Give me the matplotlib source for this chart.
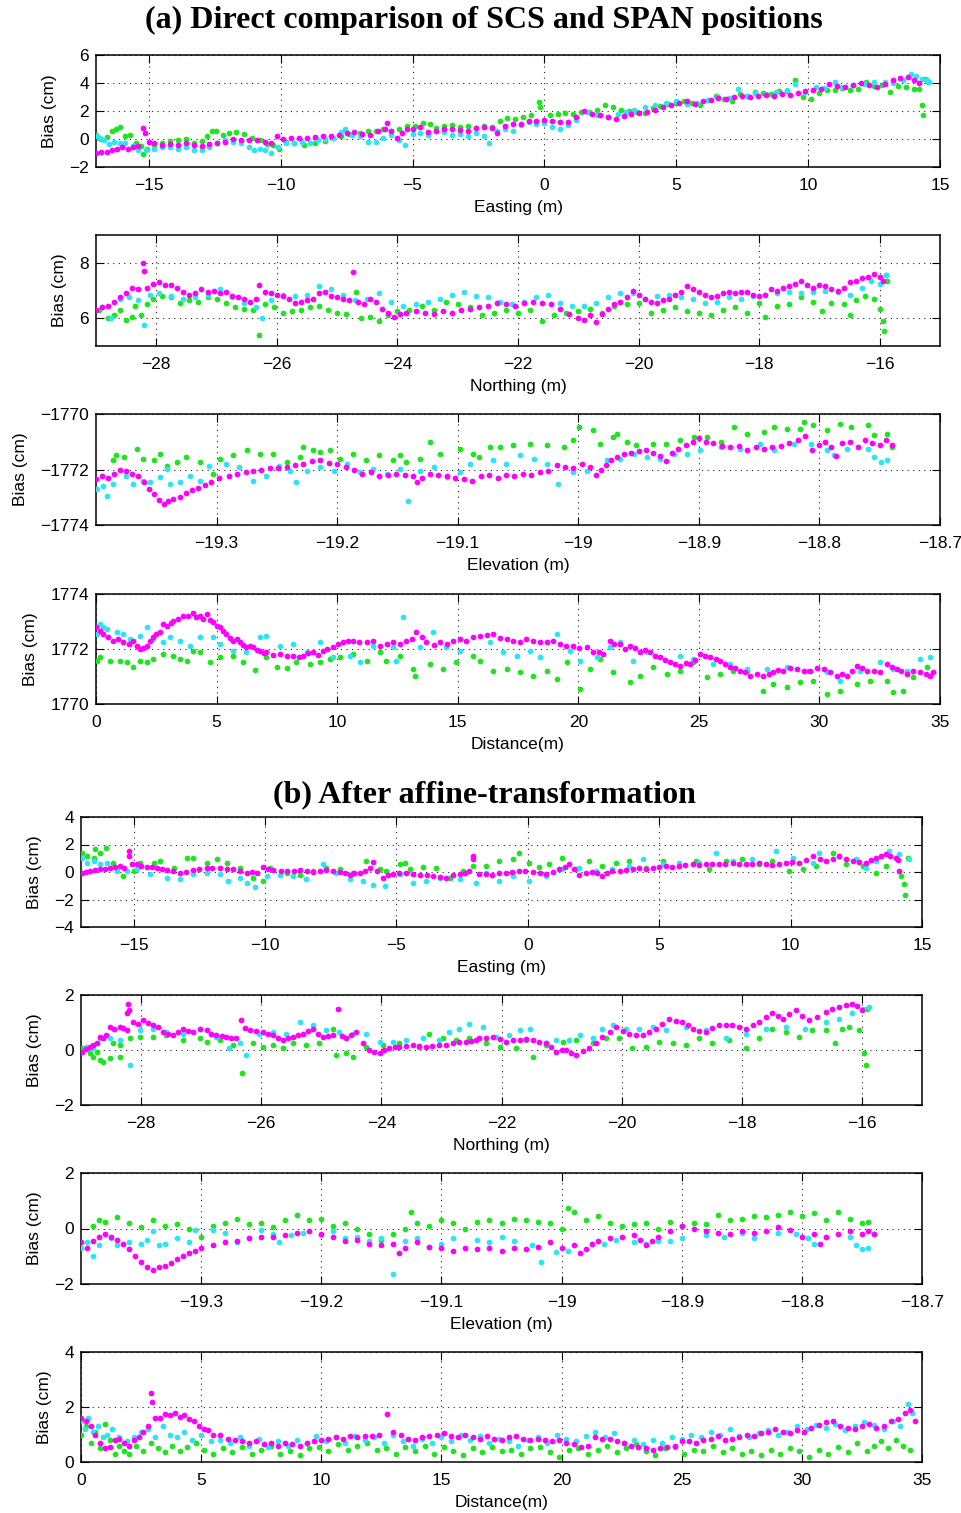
import matplotlib
matplotlib.use("Agg")
import matplotlib.pyplot as plt
from matplotlib.ticker import FuncFormatter

# ---------------------------------------------------------------- data
# (a) Direct comparison -- bias vs Easting
A_EAST_MAG_X = [-17.0,-16.8,-16.6,-16.4,-16.2,-16.0,-15.8,-15.6,-15.4,-15.2,-15.15,-15.0,-14.8,-14.5,-14.2,-13.9,-13.6,-13.3,-13.0,-12.7,-12.4,-12.1,-11.8,-11.5,-11.2,-10.9,-10.6,-10.35,-10.15,-9.9,-9.6,-9.3,-9.0,-8.7,-8.4,-8.1,-7.8,-7.5,-7.2,-6.9,-6.6,-6.3,-6.05,-5.95,-5.8,-5.6,-5.4,-5.2,-5.0,-4.7,-4.4,-4.1,-3.8,-3.5,-3.2,-2.9,-2.6,-2.3,-2.0,-1.8,-1.5,-1.2,-0.9,-0.6,-0.3,0.0,0.3,0.6,0.9,1.2,1.5,1.8,2.1,2.4,2.7,3.0,3.3,3.6,3.9,4.2,4.5,4.8,5.1,5.4,5.7,6.0,6.3,6.6,6.9,7.2,7.5,7.8,8.1,8.4,8.7,9.0,9.3,9.6,9.9,10.2,10.5,10.8,11.1,11.4,11.7,12.0,12.3,12.6,12.9,13.2,13.5,13.8,14.0,14.2]
A_EAST_MAG_Y = [-1.0,-0.95,-0.9,-0.8,-0.7,-0.6,-0.7,-0.55,-0.5,0.8,0.45,-0.2,-0.3,-0.4,-0.35,-0.4,-0.3,-0.45,-0.5,-0.35,-0.25,-0.2,0.0,-0.05,-0.1,-0.05,-0.2,-0.3,0.25,0.0,0.1,0.1,0.05,0.15,0.2,0.25,0.3,0.45,0.5,0.35,0.3,0.55,0.75,1.15,0.6,0.1,0.4,0.7,0.75,0.85,0.5,0.6,0.7,0.75,0.65,0.55,0.8,0.85,0.8,0.45,0.95,1.1,1.05,1.3,1.3,1.35,1.3,1.2,1.25,1.6,2.0,1.8,1.7,1.55,1.4,1.65,1.8,1.85,1.95,2.1,2.3,2.45,2.6,2.7,2.5,2.75,2.8,2.95,2.85,3.0,3.05,3.0,3.1,3.15,3.1,3.2,3.15,3.3,3.4,3.5,3.6,3.9,3.8,3.7,3.85,4.0,3.85,3.75,3.9,4.2,4.35,4.45,4.25,4.0]
A_EAST_GRN_X = [-17.0,-16.9,-16.8,-16.6,-16.4,-16.25,-16.1,-15.9,-15.7,-15.5,-15.3,-15.2,-15.05,-14.8,-14.5,-14.2,-13.9,-13.6,-13.3,-13.0,-12.8,-12.6,-12.45,-12.2,-11.95,-11.7,-11.4,-11.1,-10.8,-10.5,-10.3,-10.05,-9.8,-9.5,-9.1,-8.7,-8.3,-8.0,-7.7,-7.4,-7.0,-6.7,-6.4,-6.1,-5.8,-5.5,-5.2,-4.9,-4.6,-4.35,-4.1,-3.8,-3.5,-3.2,-2.9,-2.6,-2.3,-2.0,-1.7,-1.4,-1.1,-0.8,-0.5,-0.2,-0.15,0.2,0.5,0.8,1.1,1.4,1.7,2.0,2.3,2.6,2.9,3.2,3.5,3.8,4.1,4.4,4.7,5.0,5.3,5.6,5.9,6.2,6.5,6.8,7.1,7.4,7.7,8.0,8.3,8.6,8.9,9.2,9.5,9.8,10.1,10.4,10.7,11.0,11.3,11.6,11.9,12.2,12.5,12.8,13.1,13.4,13.7,14.0,14.2,14.3,14.35,14.45,14.55]
A_EAST_GRN_Y = [0.3,0.1,0.0,0.15,0.6,0.75,0.85,0.2,0.3,-0.3,-0.5,-1.1,-0.7,-0.4,-0.3,-0.15,-0.1,0.0,-0.3,-0.15,0.2,0.55,0.55,0.3,0.4,0.5,0.35,0.1,-0.1,-0.35,-0.4,-0.7,-0.2,-0.3,-0.4,-0.3,-0.15,0.05,0.25,0.35,0.45,0.6,0.55,0.7,0.6,0.75,0.9,0.95,1.15,1.1,0.8,0.9,1.0,0.85,0.95,0.8,0.95,0.85,1.3,1.5,1.45,1.6,1.75,2.65,2.3,1.7,1.8,1.85,1.8,1.95,1.9,2.1,2.4,2.3,2.05,2.0,1.9,1.85,2.2,2.35,2.5,2.55,2.75,2.6,2.4,2.8,3.05,2.85,2.75,3.2,3.1,3.35,3.3,3.25,3.4,3.45,4.2,3.0,2.85,3.3,3.5,3.5,3.65,3.5,3.6,4.05,3.8,3.85,3.35,3.8,3.7,3.55,3.6,2.45,1.75,4.3,4.1]
A_EAST_CYN_X = [-17.0,-16.85,-16.7,-16.5,-16.3,-16.1,-15.9,-15.6,-15.4,-15.1,-14.8,-14.5,-14.2,-13.9,-13.6,-13.3,-13.0,-12.7,-12.4,-12.1,-11.8,-11.5,-11.2,-11.0,-10.8,-10.6,-10.35,-10.1,-9.8,-9.5,-9.2,-8.9,-8.6,-8.3,-8.0,-7.7,-7.55,-7.3,-7.0,-6.7,-6.4,-6.1,-5.8,-5.5,-5.3,-5.0,-4.7,-4.4,-4.1,-3.8,-3.5,-3.2,-2.9,-2.6,-2.3,-2.1,-1.8,-1.5,-1.2,-0.9,-0.6,-0.3,0.0,0.3,0.6,0.9,1.2,1.6,2.0,2.4,2.8,3.1,3.4,3.8,4.2,4.6,5.0,5.4,5.8,6.2,6.6,7.0,7.35,7.7,8.0,8.4,8.8,9.2,9.5,9.9,10.3,10.6,11.0,11.3,11.7,12.1,12.5,12.9,13.2,13.6,13.9,14.1,14.3,14.5,14.6]
A_EAST_CYN_Y = [0.2,0.1,-0.1,-0.35,-0.2,-0.3,-0.25,-0.5,-0.75,-0.8,-0.7,-0.6,-0.55,-0.7,-0.6,-0.8,-0.75,-0.6,-0.3,-0.1,-0.2,-0.3,-0.55,-0.8,-0.7,-0.75,-1.0,-0.6,-0.25,-0.3,-0.2,-0.25,-0.1,0.0,0.1,0.5,0.75,0.3,0.25,-0.2,-0.2,0.1,0.3,-0.1,-0.45,0.35,0.45,0.3,0.55,0.5,0.3,0.35,0.25,0.45,0.2,-0.3,0.55,0.7,0.55,1.0,1.2,1.1,1.15,0.85,0.75,1.0,1.35,1.9,1.75,1.6,1.8,1.9,2.1,2.3,2.4,2.6,2.75,2.5,2.6,2.8,3.0,2.9,3.6,3.1,3.3,3.25,3.35,3.5,3.95,3.35,3.7,3.65,4.05,3.7,3.85,3.9,4.05,4.1,4.0,4.25,4.65,4.5,4.3,4.2,4.05]

# (a) bias vs Northing
A_NORTH_MAG_X = [-29.0,-28.9,-28.8,-28.7,-28.6,-28.5,-28.4,-28.3,-28.22,-28.2,-28.15,-28.05,-27.95,-27.85,-27.75,-27.65,-27.55,-27.45,-27.35,-27.25,-27.15,-27.05,-26.95,-26.85,-26.75,-26.65,-26.55,-26.45,-26.35,-26.3,-26.2,-26.1,-26.0,-25.9,-25.8,-25.7,-25.6,-25.5,-25.4,-25.3,-25.2,-25.1,-25.0,-24.9,-24.8,-24.73,-24.65,-24.55,-24.45,-24.35,-24.25,-24.15,-24.05,-23.95,-23.85,-23.7,-23.55,-23.4,-23.25,-23.1,-22.95,-22.8,-22.65,-22.5,-22.35,-22.2,-22.05,-21.9,-21.75,-21.6,-21.45,-21.3,-21.15,-21.0,-20.9,-20.8,-20.7,-20.6,-20.5,-20.4,-20.3,-20.2,-20.1,-20.0,-19.9,-19.8,-19.7,-19.6,-19.5,-19.4,-19.3,-19.2,-19.1,-19.0,-18.9,-18.8,-18.7,-18.6,-18.5,-18.4,-18.3,-18.2,-18.1,-18.0,-17.9,-17.8,-17.7,-17.6,-17.5,-17.4,-17.3,-17.2,-17.1,-17.0,-16.9,-16.8,-16.7,-16.6,-16.5,-16.4,-16.3,-16.2,-16.1,-16.0,-15.95]
A_NORTH_MAG_Y = [6.3,6.4,6.45,6.6,6.75,6.9,7.1,7.05,8.0,7.7,7.1,7.25,7.3,7.2,7.2,7.1,6.95,6.85,6.9,7.05,6.95,7.0,6.9,6.95,6.8,6.75,6.7,6.6,6.7,7.2,6.95,6.9,6.85,6.8,6.7,6.55,6.6,6.65,6.7,6.9,6.95,6.8,6.75,6.7,6.65,7.65,6.6,6.5,6.7,6.6,6.35,6.2,6.05,6.15,6.2,6.25,6.2,6.15,6.25,6.2,6.3,6.35,6.4,6.45,6.55,6.5,6.45,6.55,6.6,6.55,6.5,6.35,6.15,6.0,5.95,6.1,5.85,6.15,6.35,6.5,6.6,6.75,7.0,6.85,6.7,6.6,6.55,6.65,6.7,6.85,6.95,7.15,7.05,6.95,6.85,6.75,6.8,6.9,6.95,6.9,6.95,6.95,6.85,6.8,6.85,7.05,7.0,7.1,7.15,7.25,7.35,7.2,7.1,7.2,7.15,7.05,7.0,7.1,7.3,7.35,7.45,7.5,7.6,7.5,7.35]
A_NORTH_GRN_X = [-28.95,-28.8,-28.7,-28.6,-28.5,-28.4,-28.35,-28.25,-28.15,-28.05,-27.9,-27.75,-27.6,-27.45,-27.3,-27.15,-27.0,-26.85,-26.7,-26.55,-26.4,-26.3,-26.2,-26.05,-25.9,-25.75,-25.6,-25.45,-25.3,-25.15,-25.0,-24.85,-24.68,-24.6,-24.45,-24.3,-24.15,-24.0,-23.8,-23.6,-23.4,-23.2,-23.0,-22.8,-22.6,-22.4,-22.2,-22.0,-21.8,-21.6,-21.4,-21.2,-21.0,-20.8,-20.6,-20.4,-20.2,-20.0,-19.8,-19.6,-19.4,-19.2,-19.0,-18.8,-18.6,-18.4,-18.2,-18.0,-17.9,-17.7,-17.5,-17.3,-17.1,-16.95,-16.8,-16.6,-16.5,-16.4,-16.25,-16.1,-16.0,-15.95,-15.93,-15.9,-15.88]
A_NORTH_GRN_Y = [6.3,6.0,6.1,6.3,5.95,6.05,6.45,6.1,6.5,6.7,6.8,6.75,6.55,6.65,6.6,6.75,6.7,6.55,6.4,6.35,6.3,5.4,6.5,6.4,6.2,6.25,6.3,6.4,6.45,6.3,6.2,6.15,6.95,6.0,6.05,5.9,6.1,6.25,6.3,6.45,6.3,6.6,6.5,6.4,6.1,6.2,6.3,6.2,6.3,5.9,6.1,6.2,6.25,6.35,6.2,6.45,6.5,6.55,6.2,6.3,6.4,6.25,6.2,6.1,6.3,6.4,6.2,6.55,6.05,6.45,6.5,6.75,6.6,6.25,6.55,6.5,6.1,6.65,6.8,6.7,6.35,5.9,5.55,7.55,7.35]
A_NORTH_CYN_X = [-28.9,-28.75,-28.6,-28.45,-28.3,-28.2,-28.1,-27.95,-27.75,-27.55,-27.35,-27.15,-26.95,-26.75,-26.55,-26.35,-26.25,-26.1,-25.9,-25.7,-25.5,-25.3,-25.1,-24.9,-24.7,-24.5,-24.3,-24.1,-23.9,-23.7,-23.5,-23.3,-23.1,-22.9,-22.7,-22.5,-22.3,-22.1,-21.9,-21.7,-21.5,-21.3,-21.1,-20.9,-20.7,-20.5,-20.3,-20.1,-19.9,-19.7,-19.5,-19.3,-19.1,-18.9,-18.7,-18.5,-18.3,-18.1,-17.9,-17.7,-17.5,-17.3,-17.1,-16.9,-16.7,-16.5,-16.3,-16.15,-16.0,-15.9]
A_NORTH_CYN_Y = [6.4,6.0,6.7,6.75,6.65,5.75,6.85,6.9,6.8,6.7,6.75,6.85,7.05,6.75,6.55,6.4,6.0,6.65,6.85,6.8,6.85,7.15,7.05,6.85,6.65,6.7,6.9,6.6,6.45,6.5,6.6,6.7,6.85,6.95,6.8,6.75,6.6,6.5,6.6,6.75,6.85,6.55,6.45,6.45,6.55,6.75,6.9,6.9,6.7,6.8,6.85,6.75,6.7,6.55,6.6,6.75,6.7,6.8,6.85,6.9,6.95,6.9,6.95,7.0,6.95,6.85,7.1,7.35,7.25,7.55]

# (a) bias vs Elevation
A_ELEV_MAG_X = [-19.4,-19.395,-19.39,-19.385,-19.38,-19.375,-19.37,-19.365,-19.36,-19.356,-19.352,-19.348,-19.344,-19.34,-19.336,-19.33,-19.325,-19.32,-19.315,-19.31,-19.305,-19.298,-19.29,-19.283,-19.276,-19.27,-19.263,-19.256,-19.249,-19.242,-19.235,-19.228,-19.221,-19.214,-19.207,-19.2,-19.193,-19.186,-19.179,-19.172,-19.165,-19.158,-19.151,-19.144,-19.137,-19.134,-19.13,-19.123,-19.116,-19.109,-19.102,-19.095,-19.088,-19.081,-19.074,-19.067,-19.06,-19.053,-19.046,-19.039,-19.032,-19.025,-19.018,-19.011,-19.004,-18.997,-18.99,-18.985,-18.981,-18.977,-18.973,-18.968,-18.962,-18.956,-18.95,-18.944,-18.938,-18.932,-18.927,-18.922,-18.917,-18.911,-18.905,-18.9,-18.894,-18.888,-18.881,-18.874,-18.867,-18.86,-18.853,-18.846,-18.839,-18.832,-18.825,-18.818,-18.812,-18.806,-18.8,-18.795,-18.79,-18.786,-18.781,-18.775,-18.768,-18.762,-18.756,-18.75,-18.745,-18.74]
A_ELEV_MAG_Y = [-1772.35,-1772.25,-1772.3,-1772.15,-1772.0,-1772.05,-1772.15,-1772.25,-1772.45,-1772.7,-1772.9,-1773.1,-1773.25,-1773.15,-1773.05,-1773.0,-1772.85,-1772.75,-1772.65,-1772.55,-1772.45,-1772.3,-1772.25,-1772.15,-1772.1,-1772.05,-1772.0,-1771.95,-1771.95,-1771.9,-1771.85,-1771.8,-1771.7,-1771.65,-1771.75,-1771.8,-1771.9,-1772.0,-1772.15,-1772.1,-1772.25,-1772.2,-1772.15,-1772.2,-1772.25,-1772.45,-1772.3,-1772.15,-1772.2,-1772.25,-1772.3,-1772.35,-1772.4,-1772.25,-1772.2,-1772.3,-1772.2,-1772.25,-1772.15,-1772.2,-1772.1,-1772.05,-1771.85,-1771.9,-1771.95,-1771.8,-1771.9,-1772.2,-1772.0,-1771.85,-1771.65,-1771.55,-1771.45,-1771.4,-1771.35,-1771.3,-1771.4,-1771.5,-1771.7,-1771.4,-1771.25,-1771.1,-1771.0,-1770.85,-1771.0,-1771.05,-1771.15,-1771.2,-1771.15,-1771.3,-1771.2,-1771.25,-1771.2,-1771.15,-1771.05,-1770.95,-1770.8,-1771.3,-1771.1,-1771.0,-1771.2,-1771.5,-1771.05,-1771.0,-1771.2,-1770.95,-1771.05,-1771.1,-1770.95,-1771.1]
A_ELEV_GRN_X = [-19.386,-19.383,-19.377,-19.366,-19.361,-19.352,-19.347,-19.341,-19.333,-19.325,-19.314,-19.303,-19.297,-19.286,-19.275,-19.264,-19.253,-19.242,-19.231,-19.228,-19.22,-19.214,-19.206,-19.198,-19.187,-19.176,-19.165,-19.154,-19.148,-19.143,-19.131,-19.123,-19.115,-19.098,-19.087,-19.082,-19.073,-19.065,-19.054,-19.04,-19.026,-19.012,-19.004,-18.999,-18.988,-18.982,-18.971,-18.968,-18.96,-18.952,-18.938,-18.927,-18.916,-18.904,-18.893,-18.882,-18.871,-18.86,-18.846,-18.838,-18.827,-18.816,-18.813,-18.805,-18.794,-18.783,-18.774,-18.76,-18.755,-18.744,-18.74]
A_ELEV_GRN_Y = [-1771.67,-1771.49,-1771.55,-1771.25,-1771.61,-1771.67,-1771.43,-1771.86,-1771.73,-1771.55,-1771.73,-1772.16,-1771.61,-1771.49,-1771.31,-1771.43,-1771.43,-1771.73,-1771.55,-1771.19,-1771.31,-1771.37,-1771.31,-1771.61,-1771.43,-1771.67,-1771.49,-1771.67,-1771.49,-1771.73,-1771.61,-1771.01,-1771.43,-1771.25,-1771.43,-1771.55,-1771.19,-1771.19,-1771.13,-1771.07,-1771.13,-1771.19,-1770.95,-1770.47,-1770.59,-1771.07,-1770.83,-1770.71,-1771.01,-1771.13,-1771.07,-1771.07,-1770.95,-1770.83,-1770.83,-1771.01,-1770.47,-1770.71,-1770.65,-1770.47,-1770.53,-1770.53,-1770.29,-1770.41,-1770.59,-1770.35,-1770.47,-1770.41,-1770.77,-1770.71,-1771.19]
A_ELEV_CYN_X = [-19.399,-19.394,-19.391,-19.386,-19.375,-19.369,-19.361,-19.355,-19.347,-19.341,-19.339,-19.33,-19.322,-19.314,-19.306,-19.292,-19.281,-19.27,-19.259,-19.248,-19.239,-19.234,-19.225,-19.214,-19.203,-19.192,-19.181,-19.17,-19.159,-19.148,-19.141,-19.131,-19.12,-19.109,-19.098,-19.09,-19.071,-19.06,-19.048,-19.037,-19.026,-19.017,-19.004,-18.993,-18.976,-18.965,-18.954,-18.943,-18.932,-18.921,-18.91,-18.899,-18.882,-18.866,-18.849,-18.838,-18.821,-18.807,-18.794,-18.788,-18.777,-18.76,-18.755,-18.749,-18.744]
A_ELEV_CYN_Y = [-1772.7,-1772.58,-1772.94,-1772.52,-1772.22,-1772.52,-1772.4,-1772.46,-1772.28,-1771.98,-1772.52,-1772.46,-1772.22,-1772.4,-1771.86,-1771.8,-1771.92,-1772.4,-1772.22,-1771.86,-1772.04,-1772.46,-1772.04,-1771.92,-1772.04,-1771.8,-1772.1,-1771.98,-1772.16,-1771.98,-1773.12,-1772.04,-1771.92,-1772.28,-1772.1,-1771.8,-1771.67,-1771.8,-1771.49,-1771.61,-1771.8,-1772.52,-1772.1,-1772.04,-1771.67,-1771.61,-1771.43,-1771.55,-1771.61,-1771.43,-1771.43,-1771.31,-1771.19,-1771.25,-1771.07,-1771.31,-1771.07,-1771.07,-1771.31,-1771.49,-1771.25,-1771.25,-1771.55,-1771.73,-1771.67]

# (a) bias vs along-track distance
A_DIST_MAG_X = [0.0,0.15,0.3,0.5,0.72,0.9,1.13,1.35,1.55,1.7,1.82,1.95,2.1,2.25,2.38,2.5,2.65,2.79,2.95,3.1,3.2,3.4,3.62,3.8,4.03,4.15,4.31,4.45,4.59,4.72,4.86,5.0,5.14,5.28,5.41,5.55,5.69,5.83,5.97,6.1,6.24,6.38,6.52,6.66,6.8,6.95,7.07,7.35,7.62,7.9,8.18,8.4,8.59,8.8,9.0,9.2,9.42,9.6,9.83,10.05,10.25,10.45,10.66,10.9,11.22,11.5,11.77,12.05,12.32,12.6,12.87,13.1,13.29,13.5,13.7,14.0,14.25,14.55,14.81,15.1,15.35,15.64,15.92,16.2,16.47,16.75,17.03,17.3,17.58,17.85,18.13,18.4,18.69,18.95,19.24,19.5,19.79,20.05,20.35,20.62,20.85,21.04,21.31,21.5,21.73,21.95,22.14,22.35,22.56,22.75,22.97,23.2,23.39,23.6,23.8,24.0,24.22,24.45,24.63,24.85,25.05,25.25,25.46,25.7,25.88,26.1,26.29,26.5,26.71,26.9,27.12,27.4,27.68,27.9,28.09,28.3,28.51,28.8,29.06,29.35,29.61,29.9,30.17,30.45,30.72,30.95,31.13,31.35,31.55,31.75,31.96,32.25,32.52,32.79,33.0,33.21,33.4,33.62,33.9,34.18,34.4,34.59,34.7]
A_DIST_MAG_Y = [1772.79,1772.65,1772.55,1772.45,1772.3,1772.35,1772.24,1772.2,1772.3,1772.1,1772.0,1772.05,1772.12,1772.3,1772.42,1772.55,1772.61,1772.91,1772.85,1772.95,1773.03,1773.1,1773.21,1773.2,1773.3,1773.15,1773.21,1773.1,1773.27,1773.05,1772.97,1772.85,1772.79,1772.65,1772.55,1772.4,1772.3,1772.35,1772.24,1772.15,1772.06,1772.1,1772.06,1771.95,1771.94,1771.85,1771.88,1771.8,1771.82,1771.75,1771.76,1771.7,1771.76,1771.85,1771.88,1771.8,1771.94,1772.0,1772.06,1772.2,1772.24,1772.3,1772.3,1772.25,1772.24,1772.3,1772.12,1772.2,1772.24,1772.2,1772.3,1772.35,1772.61,1772.45,1772.24,1772.15,1772.24,1772.2,1772.3,1772.35,1772.3,1772.42,1772.48,1772.5,1772.55,1772.4,1772.36,1772.3,1772.24,1772.35,1772.3,1772.25,1772.24,1772.3,1772.18,1772.1,1772.12,1772.05,1772.06,1771.88,1771.9,1771.82,1772.3,1772.2,1772.18,1772.0,1772.12,1772.05,1771.88,1771.95,1771.88,1771.75,1771.7,1771.6,1771.52,1771.45,1771.39,1771.5,1771.45,1771.6,1771.82,1771.75,1771.7,1771.62,1771.58,1771.45,1771.33,1771.3,1771.21,1771.15,1771.03,1771.1,1771.03,1771.1,1771.15,1771.25,1771.21,1771.3,1771.27,1771.2,1771.21,1771.3,1771.27,1771.15,1771.03,1771.1,1771.03,1771.2,1771.39,1771.3,1771.21,1771.2,1771.15,1771.45,1771.35,1771.27,1771.2,1771.09,1771.2,1771.15,1771.1,1771.03,1771.15]
A_DIST_GRN_X = [0.03,0.17,0.58,0.99,1.27,1.55,1.82,2.1,2.38,2.79,3.2,3.48,3.76,4.03,4.31,4.72,5.14,5.69,6.1,6.59,7.07,7.49,7.9,8.31,8.87,9.28,9.7,10.11,10.66,11.22,11.77,12.04,12.6,13.15,13.22,13.84,14.39,14.94,15.64,15.92,16.47,17.03,17.58,18.13,18.69,19.1,19.52,20.07,20.48,20.9,21.45,22.14,22.56,23.11,23.67,24.22,24.77,25.33,25.88,26.43,26.98,27.68,28.09,28.64,29.2,29.75,30.3,30.85,31.55,32.1,32.79,33.07,33.48,33.9,34.45]
A_DIST_GRN_Y = [1771.58,1771.7,1771.58,1771.58,1771.52,1771.33,1771.58,1771.52,1771.64,1771.82,1771.76,1771.64,1771.58,1771.94,1771.88,1771.52,1771.7,1771.76,1771.52,1771.24,1771.7,1771.33,1771.31,1771.52,1771.45,1771.52,1771.64,1771.7,1771.82,1771.58,1771.88,1771.58,1771.76,1771.27,1771.03,1771.45,1771.27,1771.52,1771.76,1771.58,1771.21,1771.27,1771.15,1771.03,1771.21,1770.91,1771.52,1770.55,1771.27,1771.64,1771.15,1770.79,1771.03,1771.33,1771.09,1771.21,1771.52,1770.97,1771.09,1771.21,1771.21,1770.48,1770.73,1770.61,1770.79,1770.85,1770.36,1770.48,1770.73,1770.85,1770.85,1770.42,1770.48,1770.97,1771.33]
A_DIST_CYN_X = [0.03,0.17,0.3,0.44,0.86,1.13,1.41,1.82,2.1,2.38,2.79,3.07,3.48,3.9,4.31,4.86,5.14,5.69,6.24,6.8,7.07,7.62,8.18,8.73,9.28,9.83,10.52,10.94,11.49,12.32,12.46,12.73,13.43,13.98,14.53,15.08,16.33,16.89,17.44,17.99,18.41,19.1,19.65,20.07,20.76,21.31,21.73,22.28,22.84,23.39,24.22,24.77,25.6,26.29,26.98,27.81,28.64,29.47,30.3,30.86,31.69,32.52,33.07,33.62,34.18,34.59]
A_DIST_CYN_Y = [1772.55,1772.91,1772.79,1772.73,1772.61,1772.55,1772.36,1772.48,1772.79,1772.36,1772.24,1772.42,1772.3,1772.12,1772.42,1772.42,1772.18,1771.94,1771.88,1772.42,1772.48,1772.12,1772.18,1771.88,1772.24,1771.7,1771.76,1771.52,1772.12,1772.06,1771.58,1773.15,1772.06,1772.61,1772.06,1771.94,1772.24,1771.88,1771.76,1771.94,1771.7,1772.55,1771.94,1771.58,1771.7,1772.06,1772.24,1771.58,1771.88,1771.7,1771.76,1771.64,1771.45,1771.45,1771.27,1771.27,1771.33,1771.21,1771.15,1770.85,1771.21,1771.52,1771.27,1771.21,1771.64,1771.7]

# (b) After affine transformation -- bias vs Easting
B_EAST_MAG_X = [-16.96,-16.8,-16.65,-16.45,-16.27,-16.1,-15.89,-15.7,-15.5,-15.35,-15.19,-15.17,-15.05,-14.87,-14.7,-14.49,-14.3,-14.11,-13.9,-13.73,-13.5,-13.23,-13.0,-12.72,-12.5,-12.22,-12.0,-11.71,-11.45,-11.2,-10.95,-10.7,-10.5,-10.32,-10.06,-9.9,-9.68,-9.4,-9.18,-8.9,-8.67,-8.4,-8.16,-7.9,-7.66,-7.4,-7.15,-6.95,-6.77,-6.6,-6.39,-6.2,-6.01,-5.89,-5.75,-5.51,-5.3,-5.13,-4.9,-4.62,-4.35,-4.11,-3.85,-3.61,-3.35,-3.1,-2.85,-2.59,-2.4,-2.22,-2.09,-2.07,-1.85,-1.6,-1.35,-1.1,-0.84,-0.6,-0.33,-0.1,0.18,0.45,0.69,0.95,1.19,1.4,1.57,1.75,1.95,2.2,2.46,2.65,2.84,3.0,3.22,3.5,3.73,4.0,4.24,4.5,4.75,5.0,5.25,5.5,5.76,6.0,6.27,6.5,6.78,7.0,7.28,7.5,7.79,8.05,8.3,8.55,8.81,9.05,9.31,9.55,9.82,10.05,10.33,10.6,10.84,11.1,11.35,11.6,11.85,12.1,12.36,12.6,12.87,13.05,13.25,13.45,13.63,13.8,14.01,14.1,14.14]
B_EAST_MAG_Y = [-0.05,0.0,0.07,0.15,0.19,0.25,0.27,0.35,0.43,0.3,1.52,1.2,0.6,0.55,0.45,0.36,0.4,0.31,0.2,0.12,0.05,-0.05,0.0,0.12,0.2,0.27,0.3,0.27,0.25,0.19,0.1,-0.05,0.0,-0.05,0.36,0.2,0.12,0.1,0.07,0.1,0.12,0.05,0.02,0.1,0.12,0.05,0.02,-0.1,-0.22,-0.1,-0.05,0.1,0.27,0.75,0.1,-0.41,-0.25,-0.17,-0.1,-0.05,-0.15,-0.22,-0.2,-0.29,-0.35,-0.41,-0.25,-0.17,-0.05,0.07,0.92,1.16,-0.17,-0.15,-0.22,-0.1,-0.05,0.0,0.07,0.05,0.02,-0.1,-0.17,0.0,0.19,0.4,0.55,0.2,-0.22,-0.1,0.02,-0.1,-0.29,-0.1,0.07,0.1,0.12,0.2,0.27,0.25,0.27,0.35,0.43,0.4,0.43,0.5,0.55,0.5,0.6,0.55,0.55,0.6,0.67,0.6,0.55,0.6,0.67,0.6,0.51,0.6,0.67,0.7,0.67,0.85,1.16,0.95,0.8,0.95,1.16,0.95,0.8,0.75,0.67,0.85,1.04,1.15,1.28,1.15,1.04,0.9,0.07]
B_EAST_GRN_X = [-16.96,-16.77,-16.52,-16.46,-16.27,-16.05,-15.78,-15.4,-15.0,-14.75,-14.24,-13.99,-13.48,-12.97,-12.72,-12.22,-11.84,-11.46,-10.95,-10.44,-10.06,-9.81,-9.18,-8.67,-8.16,-7.66,-7.15,-6.65,-6.14,-5.63,-5.38,-4.87,-4.68,-4.49,-3.99,-3.48,-2.97,-2.47,-2.09,-1.6,-1.09,-0.58,-0.33,0.05,0.43,0.81,1.32,1.83,2.34,2.84,3.35,3.86,4.49,5.13,5.76,6.4,6.9,7.54,8.17,8.81,9.31,9.95,10.46,10.96,11.6,12.11,12.74,13.25,13.63,14.2,14.33,14.37,14.45]
B_EAST_GRN_Y = [1.4,1.16,1.04,1.64,1.4,1.71,0.67,-0.29,0.07,0.67,0.67,0.8,0.31,1.04,0.99,0.67,0.92,0.67,0.31,-0.41,-0.65,0.27,-0.05,-0.22,0.07,0.27,0.19,-0.05,0.8,0.19,0.07,0.55,0.67,0.19,0.36,0.27,-0.41,0.07,0.43,0.43,0.8,0.92,1.4,0.67,0.36,0.55,1.04,0.19,0.8,0.43,0.67,0.8,0.27,0.8,0.43,0.8,0.19,0.8,0.92,0.55,0.8,0.07,0.19,0.43,1.4,0.55,0.43,-0.05,0.43,-0.29,-0.89,-1.69,1.04]
B_EAST_CYN_X = [-16.96,-16.77,-16.52,-16.27,-16.01,-15.63,-15.25,-14.87,-14.37,-13.73,-13.23,-12.72,-12.22,-11.71,-11.39,-10.95,-10.7,-10.38,-9.94,-9.43,-8.92,-8.42,-7.78,-7.28,-6.77,-6.27,-5.89,-5.44,-4.87,-4.37,-3.86,-3.35,-2.59,-1.96,-1.6,-1.09,-0.58,0.05,0.69,1.32,1.95,2.59,3.22,3.86,4.37,5.13,5.76,6.52,7.16,7.79,8.55,9.44,10.08,10.84,11.09,11.85,12.49,12.87,13.25,13.76,14.14,14.52]
B_EAST_CYN_Y = [1.04,0.67,0.8,0.55,0.67,0.07,0.07,0.19,-0.17,-0.41,-0.53,-0.17,-0.05,-0.12,-0.65,-0.41,-0.77,-1.08,-0.29,-0.22,-0.29,-0.53,0.55,-0.05,-0.53,-0.65,-0.94,-1.01,-0.17,-0.77,-0.65,-0.41,-0.53,-0.77,-0.05,-0.65,-0.29,-0.65,-0.29,0.19,0.31,0.07,0.19,0.43,0.92,0.55,0.67,0.67,1.4,0.8,0.92,1.52,1.04,0.67,1.4,1.16,0.92,0.31,0.8,1.52,1.28,0.92]

# (b) bias vs Northing
B_NORTH_MAG_X = [-28.99,-28.92,-28.85,-28.8,-28.74,-28.69,-28.63,-28.58,-28.52,-28.45,-28.35,-28.3,-28.24,-28.22,-28.2,-28.23,-28.13,-28.05,-27.97,-27.88,-27.8,-27.72,-27.63,-27.55,-27.47,-27.38,-27.3,-27.22,-27.14,-27.02,-26.91,-26.83,-26.75,-26.66,-26.58,-26.5,-26.42,-26.33,-26.27,-26.19,-26.08,-25.97,-25.89,-25.81,-25.72,-25.64,-25.55,-25.47,-25.39,-25.31,-25.22,-25.14,-25.05,-24.97,-24.89,-24.81,-24.73,-24.66,-24.59,-24.5,-24.42,-24.31,-24.2,-24.12,-24.03,-23.95,-23.87,-23.78,-23.7,-23.59,-23.48,-23.37,-23.26,-23.15,-23.04,-22.93,-22.81,-22.7,-22.59,-22.5,-22.43,-22.37,-22.25,-22.14,-22.03,-21.92,-21.81,-21.7,-21.59,-21.48,-21.37,-21.26,-21.17,-21.09,-21.0,-20.93,-20.85,-20.76,-20.65,-20.54,-20.43,-20.32,-20.2,-20.09,-19.98,-19.87,-19.76,-19.65,-19.54,-19.43,-19.32,-19.21,-19.1,-18.99,-18.9,-18.82,-18.71,-18.6,-18.49,-18.38,-18.27,-18.16,-18.05,-17.93,-17.82,-17.71,-17.6,-17.49,-17.4,-17.32,-17.21,-17.1,-16.99,-16.88,-16.74,-16.6,-16.49,-16.38,-16.27,-16.16,-16.08,-16.0]
B_NORTH_MAG_Y = [-0.06,0.05,0.12,0.2,0.24,0.48,0.45,0.54,0.84,0.75,0.84,0.8,0.72,1.69,1.45,1.33,1.02,0.95,1.08,1.0,0.9,0.85,0.66,0.6,0.54,0.65,0.78,0.7,0.66,0.75,0.72,0.6,0.54,0.5,0.48,0.45,0.42,1.08,0.8,0.72,0.68,0.66,0.6,0.54,0.45,0.36,0.42,0.48,0.55,0.6,0.7,0.78,0.6,0.48,0.5,0.54,1.5,0.5,0.42,0.55,0.66,0.24,0.0,-0.08,-0.12,0.0,0.06,0.1,0.12,0.15,0.18,0.15,0.12,0.15,0.18,0.2,0.24,0.28,0.3,0.32,0.36,0.42,0.45,0.48,0.4,0.3,0.35,0.36,0.4,0.36,0.3,0.24,0.1,-0.06,0.0,0.0,-0.1,-0.18,-0.05,0.06,0.25,0.48,0.65,0.84,0.7,0.6,0.55,0.54,0.65,0.78,0.95,1.14,1.05,1.02,0.9,0.78,0.7,0.66,0.8,0.9,0.92,0.9,0.85,0.78,0.9,1.02,1.2,1.33,1.25,1.14,1.3,1.45,1.25,1.08,1.2,1.39,1.5,1.57,1.62,1.69,1.6,1.45]
B_NORTH_GRN_X = [-28.99,-28.85,-28.8,-28.74,-28.69,-28.63,-28.52,-28.47,-28.35,-28.35,-28.19,-28.02,-27.8,-27.58,-27.3,-27.02,-26.91,-26.69,-26.47,-26.32,-26.14,-25.97,-25.81,-25.64,-25.47,-25.25,-25.03,-24.81,-24.75,-24.59,-24.48,-24.25,-23.98,-23.7,-23.37,-23.2,-22.98,-22.76,-22.54,-22.25,-22.03,-21.76,-21.59,-21.48,-21.26,-20.98,-20.76,-20.48,-20.26,-20.04,-19.82,-19.6,-19.37,-19.15,-18.93,-18.71,-18.49,-18.21,-17.93,-17.71,-17.49,-17.27,-17.05,-16.83,-16.6,-16.44,-16.33,-16.22,-16.05,-15.97,-15.94,-15.91]
B_NORTH_GRN_Y = [0.06,-0.12,-0.24,-0.06,-0.36,-0.42,-0.3,0.24,0.18,-0.24,0.42,0.48,0.48,0.54,0.36,0.42,0.3,0.36,0.18,-0.84,0.24,0.12,0.18,0.06,0.24,0.18,0.24,0.78,-0.18,-0.12,-0.24,0.12,0.18,0.24,0.12,0.6,0.42,0.36,0.42,0.24,0.12,0.06,0.36,-0.24,0.18,0.3,0.36,0.24,0.42,0.42,0.06,0.12,0.3,0.24,0.18,0.42,0.24,0.36,0.06,0.42,0.78,0.66,0.48,0.72,0.72,0.24,0.78,0.84,0.72,-0.12,-0.54,1.5]
B_NORTH_CYN_X = [-28.91,-28.8,-28.69,-28.52,-28.35,-28.19,-28.02,-27.8,-27.58,-27.3,-27.02,-26.75,-26.53,-26.36,-26.25,-26.03,-25.81,-25.58,-25.36,-25.14,-24.92,-24.7,-24.48,-24.25,-24.03,-23.81,-23.59,-23.31,-23.04,-22.87,-22.7,-22.54,-22.31,-22.09,-21.87,-21.7,-21.53,-21.26,-21.09,-20.87,-20.7,-20.48,-20.32,-20.15,-19.93,-19.71,-19.48,-19.26,-18.93,-18.6,-18.27,-17.93,-17.6,-17.27,-16.94,-16.6,-16.38,-16.16,-15.99,-15.88]
B_NORTH_CYN_Y = [0.12,0.06,0.42,0.42,0.36,-0.54,0.72,0.78,0.66,0.6,0.78,0.48,0.06,0.24,-0.18,0.6,0.66,0.6,1.02,0.9,0.72,0.66,0.6,0.6,0.3,0.3,0.36,0.42,0.36,0.66,0.78,0.96,0.84,0.48,0.54,0.72,0.78,0.24,0.36,0.36,0.54,0.42,0.78,0.9,0.78,0.78,0.84,0.72,0.84,0.72,0.42,0.6,0.78,0.84,0.78,1.02,1.14,1.33,1.5,1.57]

# (b) bias vs Elevation
B_ELEV_MAG_X = [-19.4,-19.395,-19.39,-19.385,-19.38,-19.375,-19.37,-19.365,-19.36,-19.355,-19.35,-19.345,-19.34,-19.335,-19.33,-19.325,-19.32,-19.315,-19.31,-19.305,-19.3,-19.29,-19.28,-19.27,-19.26,-19.25,-19.24,-19.23,-19.22,-19.21,-19.2,-19.19,-19.18,-19.17,-19.16,-19.15,-19.14,-19.135,-19.13,-19.12,-19.11,-19.1,-19.09,-19.08,-19.07,-19.06,-19.05,-19.04,-19.03,-19.02,-19.01,-19.0,-18.99,-18.985,-18.98,-18.975,-18.97,-18.96,-18.95,-18.94,-18.935,-18.93,-18.925,-18.92,-18.91,-18.9,-18.89,-18.88,-18.87,-18.86,-18.85,-18.84,-18.83,-18.82,-18.81,-18.8,-18.79,-18.785,-18.78,-18.77,-18.76,-18.75,-18.745,-18.74]
B_ELEV_MAG_Y = [-0.5,-0.7,-0.45,-0.3,-0.2,-0.3,-0.4,-0.55,-0.75,-1.0,-1.2,-1.4,-1.5,-1.4,-1.35,-1.25,-1.1,-1.0,-0.9,-0.8,-0.7,-0.6,-0.5,-0.45,-0.35,-0.3,-0.3,-0.25,-0.15,-0.1,-0.2,-0.3,-0.45,-0.4,-0.55,-0.6,-0.55,-0.9,-0.7,-0.5,-0.65,-0.7,-0.8,-0.7,-0.75,-0.7,-0.8,-0.7,-0.75,-0.65,-0.5,-0.7,-0.6,-0.9,-0.75,-0.55,-0.45,-0.35,-0.3,-0.25,-0.4,-0.6,-0.45,-0.3,-0.1,0.1,0.0,-0.1,-0.15,-0.2,-0.1,-0.15,-0.1,0.05,-0.05,-0.3,-0.2,-0.55,-0.3,-0.2,-0.1,-0.2,-0.1,-0.2]
B_ELEV_GRN_X = [-19.39,-19.385,-19.38,-19.37,-19.36,-19.35,-19.34,-19.33,-19.32,-19.31,-19.3,-19.29,-19.28,-19.27,-19.26,-19.25,-19.24,-19.23,-19.22,-19.21,-19.2,-19.19,-19.18,-19.17,-19.16,-19.15,-19.14,-19.13,-19.125,-19.12,-19.11,-19.1,-19.09,-19.08,-19.07,-19.06,-19.05,-19.04,-19.03,-19.02,-19.01,-19.0,-18.995,-18.99,-18.98,-18.97,-18.96,-18.95,-18.94,-18.93,-18.92,-18.91,-18.9,-18.89,-18.88,-18.87,-18.86,-18.85,-18.84,-18.83,-18.82,-18.81,-18.8,-18.79,-18.78,-18.77,-18.76,-18.75,-18.745,-18.74]
B_ELEV_GRN_Y = [0.1,0.3,0.25,0.4,0.2,0.05,0.3,0.1,0.15,0.0,-0.3,0.1,0.2,0.35,0.15,0.2,0.05,0.3,0.5,0.3,0.35,0.1,0.2,0.0,-0.2,-0.4,-0.2,0.0,0.6,0.2,0.1,0.3,0.2,0.0,0.25,0.3,0.2,0.35,0.3,0.25,0.2,0.0,0.75,0.6,0.3,0.45,0.2,0.1,0.15,0.2,0.0,0.25,0.1,0.2,0.15,0.5,0.3,0.35,0.45,0.4,0.5,0.6,0.45,0.55,0.3,0.6,0.35,0.2,0.25,-0.2]
B_ELEV_CYN_X = [-19.4,-19.395,-19.39,-19.385,-19.375,-19.37,-19.36,-19.35,-19.345,-19.34,-19.335,-19.33,-19.32,-19.31,-19.305,-19.29,-19.28,-19.27,-19.26,-19.25,-19.24,-19.235,-19.225,-19.215,-19.2,-19.19,-19.18,-19.17,-19.16,-19.15,-19.14,-19.13,-19.12,-19.11,-19.1,-19.09,-19.07,-19.06,-19.05,-19.04,-19.025,-19.017,-19.005,-18.995,-18.975,-18.965,-18.955,-18.94,-18.93,-18.92,-18.91,-18.9,-18.88,-18.865,-18.85,-18.84,-18.82,-18.805,-18.795,-18.79,-18.78,-18.76,-18.755,-18.75,-18.745]
B_ELEV_CYN_Y = [-0.7,-0.5,-1.0,-0.6,-0.35,-0.6,-0.5,-0.55,-0.4,-0.1,-0.6,-0.55,-0.35,-0.5,-0.05,-0.05,-0.15,-0.5,-0.35,-0.05,-0.2,-0.5,-0.25,-0.15,-0.25,-0.1,-0.35,-0.3,-0.45,-0.35,-1.65,-0.45,-0.35,-0.65,-0.55,-0.35,-0.4,-0.5,-0.3,-0.45,-0.6,-1.2,-0.85,-0.8,-0.55,-0.55,-0.4,-0.5,-0.55,-0.45,-0.45,-0.35,-0.25,-0.3,-0.15,-0.35,-0.15,-0.2,-0.35,-0.55,-0.3,-0.3,-0.6,-0.75,-0.7]

# (b) bias vs along-track distance
B_DIST_MAG_X = [0.0,0.2,0.4,0.6,0.8,1.0,1.2,1.4,1.6,1.8,2.0,2.2,2.4,2.6,2.8,2.9,2.95,3.1,3.3,3.5,3.7,3.9,4.1,4.3,4.5,4.7,4.9,5.1,5.3,5.5,5.8,6.1,6.4,6.7,7.0,7.3,7.6,7.9,8.2,8.5,8.8,9.1,9.4,9.7,10.0,10.3,10.6,10.9,11.2,11.5,11.8,12.1,12.4,12.75,13.0,13.3,13.6,13.9,14.2,14.5,14.8,15.1,15.4,15.7,16.0,16.3,16.6,16.9,17.2,17.5,17.8,18.1,18.4,18.7,19.0,19.3,19.6,19.9,20.2,20.5,20.8,21.1,21.4,21.7,22.0,22.3,22.6,22.9,23.2,23.5,23.8,24.1,24.4,24.7,25.0,25.3,25.6,25.9,26.2,26.5,26.8,27.1,27.4,27.7,28.0,28.3,28.6,28.9,29.2,29.5,29.8,30.1,30.4,30.7,31.0,31.3,31.6,31.9,32.2,32.5,32.8,33.1,33.4,33.7,34.0,34.3,34.5,34.7]
B_DIST_MAG_Y = [1.6,1.5,1.3,1.0,0.7,0.5,0.55,0.8,0.85,0.7,0.6,0.8,0.9,1.1,1.3,2.5,2.2,1.6,1.6,1.75,1.7,1.8,1.65,1.7,1.55,1.5,1.3,1.2,1.15,1.0,1.0,0.85,0.8,0.75,0.7,0.75,0.65,0.7,0.6,0.7,0.65,0.6,0.7,0.75,0.8,0.85,0.9,0.85,0.95,0.9,0.95,0.95,1.0,1.75,1.1,1.0,0.85,0.8,0.9,0.95,1.0,1.05,0.95,0.9,1.0,0.9,0.85,0.95,0.85,0.8,0.9,0.95,0.85,0.8,0.85,0.8,0.75,0.8,0.7,0.65,0.55,0.6,0.9,0.85,0.85,0.75,0.7,0.6,0.55,0.5,0.45,0.5,0.55,0.6,0.75,0.75,0.7,0.8,0.85,0.95,0.8,0.85,0.9,1.0,0.95,1.05,1.1,1.2,1.1,1.05,1.15,1.1,1.25,1.35,1.45,1.5,1.3,1.25,1.2,1.3,1.4,1.25,1.3,1.5,1.55,1.8,1.9,1.5]
B_DIST_GRN_X = [0.0,0.2,0.4,0.6,0.8,1.0,1.2,1.4,1.6,1.8,2.0,2.3,2.6,2.9,3.2,3.5,3.8,4.1,4.4,4.8,5.1,5.5,5.9,6.3,6.7,7.1,7.5,7.9,8.3,8.7,9.1,9.5,9.9,10.3,10.7,11.1,11.5,11.9,12.3,12.7,13.1,13.5,13.9,14.3,14.7,15.1,15.5,15.9,16.3,16.7,17.1,17.5,17.9,18.3,18.7,19.1,19.5,19.9,20.3,20.7,21.1,21.5,21.9,22.3,22.7,23.1,23.5,23.9,24.3,24.7,25.1,25.5,25.9,26.3,26.7,27.1,27.5,27.9,28.3,28.7,29.1,29.5,29.9,30.3,30.7,31.1,31.5,31.9,32.3,32.7,33.0,33.3,33.6,33.9,34.2,34.5]
B_DIST_GRN_Y = [1.0,1.3,0.7,1.1,0.5,1.4,0.8,0.3,0.6,0.4,0.3,0.6,0.4,0.7,0.5,0.35,0.6,0.4,0.55,0.7,0.45,0.3,0.5,0.35,0.55,0.3,0.45,0.6,0.3,0.4,0.25,0.5,0.55,0.4,0.65,0.45,0.6,0.7,0.45,0.5,0.3,0.55,0.4,0.6,0.3,0.55,0.4,0.25,0.5,0.35,0.55,0.4,0.45,0.3,0.5,0.55,0.35,0.2,0.45,0.5,0.3,0.45,0.6,0.35,0.5,0.65,0.4,0.25,0.5,0.55,0.3,0.45,0.4,0.6,0.35,0.5,0.3,0.4,0.25,0.45,0.3,0.5,0.4,0.2,0.45,0.3,0.55,0.35,0.7,0.4,0.6,0.75,0.5,0.8,0.6,0.45]
B_DIST_CYN_X = [0.0,0.15,0.3,0.5,0.7,0.9,1.1,1.3,1.6,1.9,2.2,2.5,2.8,3.1,3.4,3.7,4.0,4.3,4.6,5.0,5.4,5.8,6.2,6.6,7.0,7.4,7.8,8.2,8.6,9.0,9.4,9.8,10.2,10.6,11.0,11.4,11.8,12.2,12.6,13.0,13.4,13.8,14.2,14.6,15.0,15.4,15.8,16.2,16.6,17.0,17.4,17.8,18.2,18.6,19.0,19.4,19.8,20.2,20.6,21.0,21.4,21.8,22.2,22.6,23.0,23.4,23.8,24.2,24.6,25.0,25.4,25.8,26.2,26.6,27.0,27.4,27.8,28.2,28.6,29.0,29.4,29.8,30.2,30.6,31.0,31.4,31.8,32.2,32.6,33.0,33.4,33.8,34.1,34.4,34.6]
B_DIST_CYN_Y = [1.5,1.2,1.6,1.1,1.3,0.9,1.0,1.2,0.9,0.75,0.9,1.1,1.2,0.9,1.3,1.0,0.9,1.1,0.8,1.0,0.75,0.8,0.7,0.9,0.6,0.85,0.55,0.75,0.6,0.8,0.7,0.95,0.75,0.9,0.7,0.95,0.8,0.9,0.7,1.0,0.75,0.6,0.85,0.7,0.9,0.75,1.0,0.8,0.95,0.7,0.85,0.75,0.6,0.8,0.9,0.7,1.0,0.85,0.75,0.95,1.1,0.9,1.05,0.7,0.8,0.65,0.8,0.7,0.9,0.85,1.0,0.9,1.1,1.0,1.2,0.95,0.9,1.05,1.15,1.0,1.1,1.3,1.2,1.35,1.25,1.4,1.15,1.3,1.45,1.35,1.2,1.5,1.3,2.1,1.8]

# axis settings per quantity
EAST_TICKS = [-15, -10, -5, 0, 5, 10, 15]
NORTH_TICKS = [-28, -26, -24, -22, -20, -18, -16]
ELEV_TICKS = [-19.3, -19.2, -19.1, -19.0, -18.9, -18.8, -18.7]
DIST_TICKS = [0, 5, 10, 15, 20, 25, 30, 35]

TITLE_A = "(a) Direct comparison of SCS and SPAN positions"
TITLE_B = "(b) After affine-transformation"

# ---------------------------------------------------------------- style
GREEN = "#1fe41f"
CYAN = "#2ee4f4"
MAGENTA = "#ff00ff"
W, H = 961, 1513

plt.rcParams["font.family"] = ["Liberation Sans", "DejaVu Sans"]
plt.rcParams["axes.unicode_minus"] = True

fig = plt.figure(figsize=(W / 100, H / 100), dpi=100)


def rect(left, top, right, bottom):
    return [left / W, 1 - bottom / H, (right - left) / W, (bottom - top) / H]


def fmt(v, _pos):
    s = "%g" % round(v, 6)
    return s.replace("-", "\u2212")


def panel(box, series, xlim, xticks, ylim, yticks, xlabel):
    ax = fig.add_axes(box)
    for xs, ys, col in series:
        ax.scatter(xs, ys, s=17, c=col, linewidths=0, zorder=3)
    ax.set_xlim(*xlim)
    ax.set_ylim(*ylim)
    ax.set_xticks(xticks)
    ax.set_yticks(yticks)
    ax.xaxis.set_major_formatter(FuncFormatter(fmt))
    ax.yaxis.set_major_formatter(FuncFormatter(fmt))
    ax.grid(True, linestyle=(0, (1, 4)), color="#222222", linewidth=0.8)
    ax.set_axisbelow(True)
    ax.tick_params(direction="in", top=True, right=True, length=6,
                   width=0.8, labelsize=12.5)
    ax.tick_params(axis="x", pad=8)
    ax.tick_params(axis="y", pad=5)
    for sp in ax.spines.values():
        sp.set_linewidth(1.1)
    ax.set_xlabel(xlabel, fontsize=12.5, labelpad=5)
    ax.set_ylabel("Bias (cm)", fontsize=12.5, labelpad=9)
    return ax


# (a) panels
panel(rect(96, 55, 940, 167),
      [(A_EAST_GRN_X, A_EAST_GRN_Y, GREEN), (A_EAST_CYN_X, A_EAST_CYN_Y, CYAN),
       (A_EAST_MAG_X, A_EAST_MAG_Y, MAGENTA)],
      (-17, 15), EAST_TICKS, (-2, 6), [-2, 0, 2, 4, 6], "Easting (m)")
panel(rect(96, 235, 940, 346),
      [(A_NORTH_GRN_X, A_NORTH_GRN_Y, GREEN), (A_NORTH_CYN_X, A_NORTH_CYN_Y, CYAN),
       (A_NORTH_MAG_X, A_NORTH_MAG_Y, MAGENTA)],
      (-29, -15), NORTH_TICKS, (5, 9), [6, 8], "Northing (m)")
panel(rect(96, 414, 940, 525),
      [(A_ELEV_GRN_X, A_ELEV_GRN_Y, GREEN), (A_ELEV_CYN_X, A_ELEV_CYN_Y, CYAN),
       (A_ELEV_MAG_X, A_ELEV_MAG_Y, MAGENTA)],
      (-19.4, -18.7), ELEV_TICKS, (-1774, -1770), [-1774, -1772, -1770], "Elevation (m)")
panel(rect(96, 594, 940, 704),
      [(A_DIST_GRN_X, A_DIST_GRN_Y, GREEN), (A_DIST_CYN_X, A_DIST_CYN_Y, CYAN),
       (A_DIST_MAG_X, A_DIST_MAG_Y, MAGENTA)],
      (0, 35), DIST_TICKS, (1770, 1774), [1770, 1772, 1774], "Distance(m)")

# (b) panels
panel(rect(81, 817, 922, 927),
      [(B_EAST_GRN_X, B_EAST_GRN_Y, GREEN), (B_EAST_CYN_X, B_EAST_CYN_Y, CYAN),
       (B_EAST_MAG_X, B_EAST_MAG_Y, MAGENTA)],
      (-17, 15), EAST_TICKS, (-4, 4), [-4, -2, 0, 2, 4], "Easting (m)")
panel(rect(81, 995, 922, 1105),
      [(B_NORTH_GRN_X, B_NORTH_GRN_Y, GREEN), (B_NORTH_CYN_X, B_NORTH_CYN_Y, CYAN),
       (B_NORTH_MAG_X, B_NORTH_MAG_Y, MAGENTA)],
      (-29, -15), NORTH_TICKS, (-2, 2), [-2, 0, 2], "Northing (m)")
panel(rect(81, 1173, 922, 1284),
      [(B_ELEV_GRN_X, B_ELEV_GRN_Y, GREEN), (B_ELEV_CYN_X, B_ELEV_CYN_Y, CYAN),
       (B_ELEV_MAG_X, B_ELEV_MAG_Y, MAGENTA)],
      (-19.4, -18.7), ELEV_TICKS, (-2, 2), [-2, 0, 2], "Elevation (m)")
panel(rect(81, 1352, 922, 1462),
      [(B_DIST_GRN_X, B_DIST_GRN_Y, GREEN), (B_DIST_CYN_X, B_DIST_CYN_Y, CYAN),
       (B_DIST_MAG_X, B_DIST_MAG_Y, MAGENTA)],
      (0, 35), DIST_TICKS, (0, 4), [0, 2, 4], "Distance(m)")

title_font = dict(family=["Liberation Serif", "DejaVu Serif"], weight="bold", fontsize=23)
fig.text(484 / W, 1 - 20 / H, TITLE_A, ha="center", va="center", **title_font)
fig.text(484 / W, 1 - 795 / H, TITLE_B, ha="center", va="center", **title_font)

fig.savefig("out.png", dpi=100)
